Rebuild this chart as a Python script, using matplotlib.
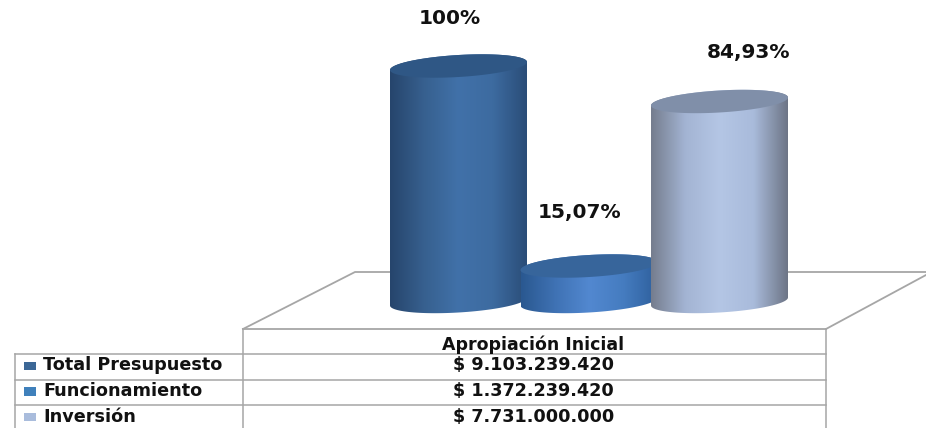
import matplotlib
matplotlib.use('Agg')
import matplotlib.pyplot as plt
from matplotlib.colors import LinearSegmentedColormap
from matplotlib.patches import Polygon, Rectangle
import numpy as np

categories = ['Total Presupuesto', 'Funcionamiento', 'Inversión']
percent = [100, 15.07, 84.93]
percent_labels = ['100%', '15,07%', '84,93%']
amounts = ['$ 9.103.239.420', '$ 1.372.239.420', '$ 7.731.000.000']
column_title = 'Apropiación Inicial'

legend_colors = ['#3c6796', '#3f80bb', '#a9bcdc']
top_colors = ['#2f5785', '#37659b', '#808fa9']
body_colors = [['#26456c', '#37608f', '#4171a9', '#3d6ba0', '#2a4d78'],
               ['#2a5890', '#3f72b4', '#5288d0', '#457cc0', '#2e5f9c'],
               ['#757d8e', '#a3b4d3', '#b4c6e5', '#a9bbdb', '#6d7586']]

# figure works in pixels, y going down
fig = plt.figure(figsize=(9.26, 4.28), dpi=100)
ax = fig.add_axes([0, 0, 1, 1])
line_col = '#a6a6a6'

# floor of the 3d box
ax.plot([243, 355, 926], [329, 272, 272], color=line_col, lw=1.3)
ax.plot([826, 926], [329, 275], color=line_col, lw=1.3)

# cylinders
base_y = 301.5
px_per_pct = 2.355
bar_w = 137
half_h = 11
tilt = 4
label_x = [450, 579, 748]
label_y = [18, 212, 52]


def ellipse_xy(cx, cy, t):
    return (cx + bar_w / 2 * np.cos(t),
            cy + half_h * np.sin(t) - tilt * np.cos(t))


for i, val in enumerate(percent):
    x0 = 390 + i * 130.5
    cx = x0 + bar_w / 2
    top_y = base_y - val * px_per_pct

    t_low = np.linspace(np.pi, 0, 60)
    t_up = np.linspace(0, -np.pi, 60)
    bx, by = ellipse_xy(cx, base_y, t_low)
    tx, ty = ellipse_xy(cx, top_y, t_up)
    verts = np.column_stack([np.r_[bx, tx], np.r_[by, ty]])
    outline = Polygon(verts, closed=True, fc='none', ec='none', zorder=3 + i)
    ax.add_patch(outline)

    cmap = LinearSegmentedColormap.from_list('c%d' % i, body_colors[i])
    grad = np.linspace(0, 1, 256).reshape(1, -1)
    im = ax.imshow(grad, cmap=cmap, extent=(x0, x0 + bar_w, base_y + 20, top_y - 20),
                   aspect='auto', interpolation='bilinear', zorder=3 + i)
    im.set_clip_path(outline)

    t_all = np.linspace(0, 2 * np.pi, 120)
    ex, ey = ellipse_xy(cx, top_y, t_all)
    ax.fill(ex, ey, color=top_colors[i], lw=0, zorder=3 + i)

    ax.text(label_x[i], label_y[i], percent_labels[i], ha='center', va='center',
            fontsize=14.5, fontweight='bold', color='#111111', zorder=10)

# table under the chart
row_y = [354, 379.5, 405]
ax.plot([243, 826], [329, 329], color=line_col, lw=1.3)
for y in row_y:
    ax.plot([15, 826], [y, y], color=line_col, lw=1.1)
ax.plot([15, 15], [354, 428], color=line_col, lw=1.1)
ax.plot([243, 243], [329, 428], color=line_col, lw=1.1)
ax.plot([826, 826], [329, 428], color=line_col, lw=1.1)

ax.text(533.5, 344.5, column_title, ha='center', va='center', fontsize=12.5,
        fontweight='bold', color='#111111')
for i, name in enumerate(categories):
    mid_y = 365.5 + i * 25.5
    ax.add_patch(Rectangle((24, mid_y - 4), 12, 8.5, fc=legend_colors[i], ec='none'))
    ax.text(43, mid_y, name, ha='left', va='center', fontsize=12.7,
            fontweight='bold', color='#111111')
    ax.text(533.5, mid_y, amounts[i], ha='center', va='center', fontsize=12.7,
            fontweight='bold', color='#111111')

ax.set_xlim(0, 926)
ax.set_ylim(428, 0)
ax.axis('off')
fig.savefig('out.png', dpi=100)
